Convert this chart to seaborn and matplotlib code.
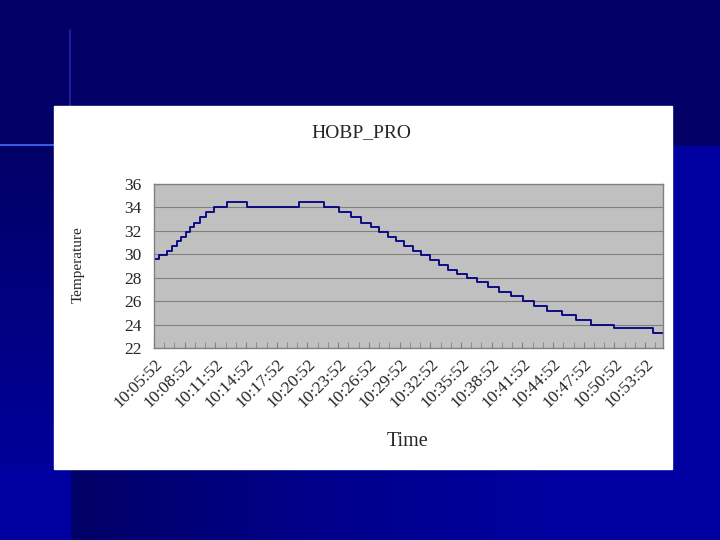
import numpy as np
import pandas as pd
import seaborn as sns
import matplotlib.pyplot as plt
from matplotlib.patches import Rectangle
from matplotlib.colors import LinearSegmentedColormap

# step change times (minutes after 10:05:52) and temperature levels
step_min = [0, 0.52, 1.24, 1.73, 2.22, 2.64, 3.10, 3.49, 3.94, 4.50,
            5.11, 5.87, 7.11, 9.12, 14.20, 16.62, 18.11, 19.26, 20.26, 21.18,
            22.02, 22.84, 23.65, 24.47, 25.29, 26.10, 26.98, 27.89, 28.77, 29.65,
            30.57, 31.61, 32.68, 33.76, 34.88, 36.05, 37.15, 38.45, 39.86, 41.26,
            42.69, 44.97, 48.76, 49.74]
temps = [29.6, 29.9, 30.3, 30.7, 31.1, 31.5, 31.9, 32.3, 32.7, 33.2,
         33.6, 34.0, 34.5, 34.0, 34.5, 34.0, 33.6, 33.2, 32.7, 32.3,
         31.9, 31.5, 31.1, 30.7, 30.3, 29.9, 29.5, 29.1, 28.7, 28.3,
         28.0, 27.6, 27.2, 26.8, 26.4, 26.0, 25.6, 25.2, 24.8, 24.4,
         24.0, 23.7, 23.3, 23.3]
tick_min = [0, 3, 6, 9, 12, 15, 18, 21, 24, 27, 30, 33, 36, 39, 42, 45, 48]
tick_labels = ['10:05:52', '10:08:52', '10:11:52', '10:14:52', '10:17:52',
               '10:20:52', '10:23:52', '10:26:52', '10:29:52', '10:32:52',
               '10:35:52', '10:38:52', '10:41:52', '10:44:52', '10:47:52',
               '10:50:52', '10:53:52']

df = pd.DataFrame({'Time': step_min, 'Temperature': temps})

sns.set_style('white')
plt.rcParams['font.family'] = ['Liberation Serif', 'DejaVu Serif']

W, H = 720, 540
fig = plt.figure(figsize=(7.2, 5.4), dpi=100)

# slide background
bg = fig.add_axes([0, 0, 1, 1])
navy = '#020066'
bright = '#0000a0'
bg.add_patch(Rectangle((0, 0), W, H, color=navy, zorder=0))
bg.add_patch(Rectangle((672, 146), W - 672, H - 146, color=bright, zorder=1))
vcmap = LinearSegmentedColormap.from_list('v', [navy, '#00009a'])
bg.imshow(np.linspace(0, 1, 50)[:, None], cmap=vcmap, aspect='auto',
          extent=(0, 54, 470, 146), zorder=1)
hcmap = LinearSegmentedColormap.from_list('h', [navy, '#00008a', bright])
bg.imshow(np.linspace(0, 1, 200)[None, :], cmap=hcmap, aspect='auto',
          extent=(70, 560, H, 469), zorder=1)
bg.add_patch(Rectangle((560, 469), W - 560, H - 469, color=bright, zorder=1))
bg.add_patch(Rectangle((0, 469), 70, H - 469, color=bright, zorder=1))
bg.plot([70, 70], [30, 106], color='#3a5cff', lw=1.2, alpha=0.45, zorder=2)
bg.plot([0, 54], [145, 145], color='#4a70ff', lw=1.5, alpha=0.8, zorder=2)
bg.add_patch(Rectangle((54, 106), 618, 363, color='white', zorder=3))
bg.set_xlim(0, W)
bg.set_ylim(H, 0)
bg.axis('off')

# chart
ax = fig.add_axes([154 / W, 1 - 348 / H, 509 / W, 164 / H])
ax.set_facecolor('#c0c0c0')
sns.lineplot(data=df, x='Time', y='Temperature', ax=ax, color='#000080',
             lw=1.3, drawstyle='steps-post')
ax.set_xlim(0, 49.74)
ax.set_ylim(22, 36)
ax.set_yticks([22, 24, 26, 28, 30, 32, 34, 36])
ax.grid(axis='y', color='#808080', lw=0.8)
ax.set_axisbelow(True)
for s in ax.spines.values():
    s.set_color('#808080')
    s.set_linewidth(1)
ax.set_xticks(tick_min)
ax.set_xticklabels(tick_labels, rotation=45, ha='right', rotation_mode='anchor',
                   fontsize=12.5)
ax.set_xticks(np.arange(0, 50, 1), minor=True)
ax.tick_params(axis='x', which='both', direction='in', length=4, color='#808080',
               bottom=True, pad=6)
ax.tick_params(axis='y', length=0, pad=9, labelsize=12.5)
ax.set_xlabel('')
ax.set_ylabel('')

fig.text(361 / W, 1 - 133 / H, 'HOBP_PRO', fontsize=14, ha='center', va='center')
fig.text(408 / W, 1 - 442 / H, 'Time', fontsize=14.5, ha='center', va='center')
fig.text(78 / W, 1 - 265 / H, 'Temperature', fontsize=11, ha='center',
         va='center', rotation=90)

fig.savefig('out.png', dpi=100)
